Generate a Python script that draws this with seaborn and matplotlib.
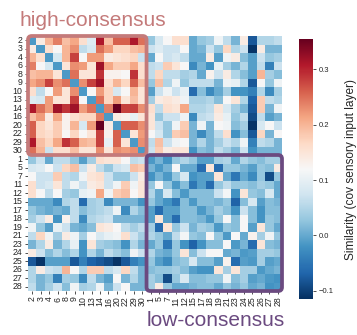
import numpy as np
import pandas as pd
import seaborn as sns
import matplotlib.pyplot as plt
from matplotlib.patches import FancyBboxPatch

# Participant ordering: high-consensus group first, then low-consensus group
high_ids = [2, 3, 4, 6, 8, 9, 10, 13, 14, 16, 20, 22, 29, 30]
low_ids = [1, 5, 7, 11, 12, 15, 17, 18, 19, 21, 23, 24, 25, 26, 27, 28]
participants = high_ids + low_ids

diag_value = -0.015

# Similarity within the high-consensus group (upper triangle, row i -> columns i+1..13)
high_high = [
    [0.14, 0.20, 0.24, 0.19, 0.21, 0.16, 0.09, 0.31, 0.19, 0.26, 0.26, 0.31, 0.25],
    [0.16, 0.12, 0.20, 0.23, 0.06, 0.08, 0.25, 0.22, 0.17, 0.17, 0.19, 0.20],
    [0.08, 0.20, 0.28, 0.12, 0.22, 0.22, 0.14, 0.15, 0.16, 0.17, 0.07],
    [0.15, 0.23, 0.22, 0.15, 0.32, 0.21, 0.18, 0.18, 0.21, 0.16],
    [0.25, 0.15, 0.15, 0.29, 0.13, 0.13, 0.12, 0.29, 0.16],
    [0.23, 0.28, 0.32, 0.16, 0.20, 0.17, 0.26, 0.19],
    [0.12, 0.22, 0.17, 0.08, 0.12, 0.20, 0.15],
    [0.25, 0.17, 0.22, 0.15, 0.19, 0.15],
    [0.24, 0.355, 0.28, 0.28, 0.23],
    [0.14, 0.13, 0.10, 0.15],
    [0.26, 0.26, 0.23],
    [0.15, 0.22],
    [0.23],
]

# Similarity between groups (rows: low-consensus participants, columns: high-consensus)
low_high = [
    [0.03, 0.07, 0.00, 0.06, 0.06, 0.03, -0.01, 0.04, 0.16, 0.15, 0.15, 0.12, 0.06, 0.07],
    [0.08, 0.09, 0.12, 0.07, 0.17, 0.19, 0.07, 0.14, 0.06, 0.03, 0.07, 0.08, 0.19, 0.18],
    [0.12, 0.07, 0.07, 0.18, 0.06, 0.05, 0.11, 0.15, 0.16, 0.07, 0.03, 0.03, 0.07, 0.14],
    [0.16, 0.07, 0.08, 0.15, 0.06, 0.11, 0.07, 0.14, 0.15, 0.07, 0.11, 0.18, 0.11, 0.15],
    [0.16, 0.12, 0.06, 0.12, 0.04, 0.03, 0.10, 0.11, 0.21, 0.11, 0.18, 0.19, 0.12, 0.15],
    [0.00, 0.00, 0.00, -0.03, 0.05, 0.06, -0.06, 0.04, 0.05, -0.03, 0.01, 0.01, 0.01, -0.02],
    [0.03, 0.01, 0.00, 0.01, 0.00, 0.06, 0.02, 0.04, 0.05, 0.06, 0.11, -0.03, 0.05, 0.02],
    [0.04, 0.07, 0.14, -0.02, 0.13, 0.06, -0.03, 0.05, 0.06, 0.07, 0.01, 0.01, 0.01, 0.01],
    [0.11, 0.03, -0.01, 0.10, 0.07, 0.01, 0.00, 0.02, 0.15, 0.14, 0.12, 0.06, 0.04, 0.06],
    [0.06, 0.17, 0.11, 0.04, 0.14, 0.11, 0.04, 0.12, 0.08, 0.10, 0.11, 0.16, 0.07, 0.04],
    [0.01, 0.05, 0.14, 0.01, 0.05, 0.10, -0.02, 0.15, 0.04, 0.03, 0.02, -0.02, 0.05, 0.01],
    [0.14, 0.07, 0.02, 0.05, 0.02, 0.05, -0.02, 0.05, 0.01, 0.06, 0.04, 0.02, 0.11, 0.07],
    [-0.08, -0.11, -0.01, -0.01, -0.01, -0.08, -0.04, -0.07, -0.08, -0.09, -0.11, -0.08, -0.04, -0.02],
    [0.05, 0.14, 0.07, 0.06, 0.20, 0.12, 0.05, 0.18, 0.18, 0.06, 0.08, 0.17, 0.06, 0.01],
    [0.05, 0.01, 0.03, -0.04, 0.04, 0.03, -0.03, 0.06, 0.01, -0.01, 0.12, 0.01, 0.05, 0.01],
    [0.06, 0.01, 0.04, 0.07, 0.02, 0.11, 0.04, 0.05, 0.11, 0.01, 0.07, 0.12, 0.01, 0.01],
]

# Similarity within the low-consensus group (upper triangle, row i -> columns i+1..15)
low_low = [
    [0.01, -0.02, 0.03, 0.05, 0.03, -0.01, -0.01, 0.04, 0.05, 0.00, 0.05, 0.03, 0.02, 0.04, 0.04],
    [0.01, 0.12, 0.00, 0.00, -0.06, 0.15, -0.06, 0.03, 0.03, 0.01, -0.01, 0.03, 0.02, 0.14],
    [0.03, 0.08, -0.02, -0.01, -0.01, 0.15, 0.00, -0.05, 0.00, -0.03, 0.03, -0.09, 0.03],
    [0.02, -0.05, -0.01, -0.06, 0.03, 0.06, 0.03, 0.03, 0.02, 0.04, 0.03, 0.00],
    [0.02, 0.02, 0.02, 0.07, 0.115, -0.02, 0.15, 0.03, 0.02, 0.08, 0.00],
    [0.02, 0.02, 0.01, 0.03, -0.07, 0.02, 0.08, -0.01, 0.02, 0.01],
    [0.01, 0.04, 0.02, -0.02, 0.07, 0.02, -0.02, 0.02, 0.02],
    [0.03, 0.12, 0.02, 0.12, 0.02, -0.02, 0.03, 0.02],
    [0.03, 0.02, 0.12, -0.01, 0.15, 0.03, 0.00],
    [0.12, 0.00, 0.13, 0.04, 0.11, 0.03],
    [0.01, -0.06, 0.15, 0.02, 0.01],
    [-0.01, 0.04, 0.04, 0.03],
    [0.04, -0.01, 0.00],
    [0.00, 0.01],
    [-0.02],
]

n_high, n_low = len(high_ids), len(low_ids)
n = n_high + n_low

# Assemble the symmetric similarity matrix from its blocks
upper = np.zeros((n, n))
for i, row in enumerate(high_high):
    upper[i, i + 1:n_high] = row
for i, row in enumerate(low_low):
    upper[n_high + i, n_high + i + 1:] = row
upper[:n_high, n_high:] = np.array(low_high).T
sim = upper + upper.T
np.fill_diagonal(sim, diag_value)

df = pd.DataFrame(sim, index=participants, columns=participants)

sns.set_style("white")
plt.rcParams["font.family"] = ["Liberation Sans", "DejaVu Sans"]

W, H = 357, 335
fig = plt.figure(figsize=(W / 100, H / 100), dpi=100)
ax = fig.add_axes([28 / W, 1 - 291 / H, 254 / W, 255 / H])
cax = fig.add_axes([299 / W, 1 - 299 / H, 14 / W, 260 / H])

sns.heatmap(df, ax=ax, cbar_ax=cax, cmap="RdBu_r", vmin=-0.115, vmax=0.355,
            xticklabels=participants, yticklabels=participants,
            cbar_kws={"ticks": [-0.1, 0.0, 0.1, 0.2, 0.3]})

ax.tick_params(axis="both", labelsize=6.3, length=2.5, width=0.6, pad=1.5,
               bottom=True, left=True, color="#333333")
plt.setp(ax.get_xticklabels(), rotation=90)
plt.setp(ax.get_yticklabels(), rotation=0)

cax.tick_params(labelsize=5.5, length=2.5, width=0.6, pad=1.5, right=True, color="#333333")
cax.set_ylabel("Similarity (cov sensory input layer)", fontsize=8.6, labelpad=8)

high_color = "#c47a7a"
low_color = "#6b4a80"
ax.add_patch(FancyBboxPatch((0, 0), n_high, n_high,
                            boxstyle="round,pad=0,rounding_size=0.45",
                            fill=False, edgecolor=high_color, linewidth=2.7,
                            clip_on=False, zorder=5))
ax.add_patch(FancyBboxPatch((n_high, n_high), n_low, n_low,
                            boxstyle="round,pad=0,rounding_size=0.45",
                            fill=False, edgecolor=low_color, linewidth=2.7,
                            clip_on=False, zorder=6))

fig.text(19.5 / W, 1 - 26 / H, "high-consensus", color=high_color, fontsize=15,
         ha="left", va="baseline")
fig.text(147 / W, 1 - 326 / H, "low-consensus", color=low_color, fontsize=15,
         ha="left", va="baseline")

fig.savefig("out.png", dpi=100)
